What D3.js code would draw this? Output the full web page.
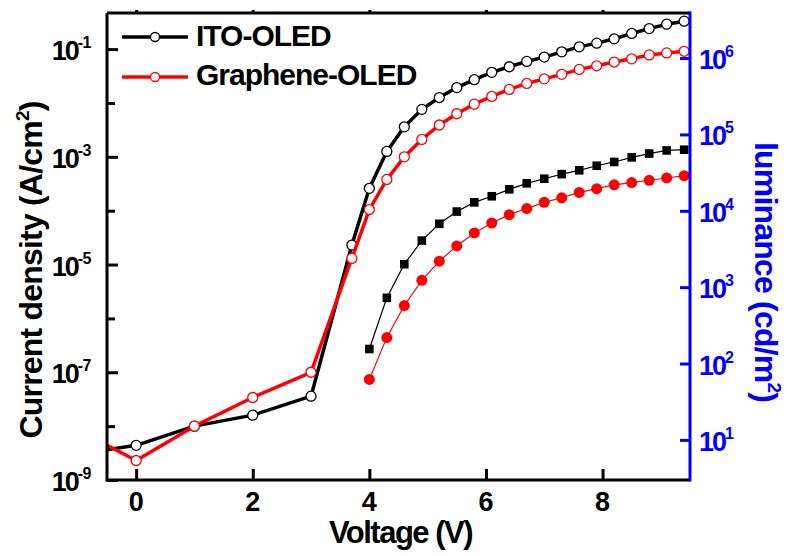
<!DOCTYPE html>
<html>
<head>
<meta charset="utf-8">
<script src="https://cdn.jsdelivr.net/npm/d3@7"></script>
<style>
  body { margin: 0; background: #fff; }
  text { font-family: "Liberation Sans", Arial, sans-serif; font-weight: bold; }
</style>
</head>
<body>
<div id="chart"></div>
<script>
// J-V data (A/cm2)
const voltageJ = [-1, 0, 1, 2, 3, 3.7, 4.0, 4.3, 4.6, 4.9, 5.2, 5.5, 5.8, 6.1, 6.4, 6.7, 7.0, 7.3, 7.6, 7.9, 8.2, 8.5, 8.8, 9.1, 9.4];
const jITO = [3.0e-9, 4.4e-9, 1.0e-8, 1.6e-8, 3.6e-8, 2.3e-5, 2.6e-4, 1.26e-3, 3.6e-3, 7.6e-3, 1.26e-2, 1.93e-2, 2.7e-2, 3.7e-2, 4.7e-2, 5.9e-2, 7.1e-2, 8.9e-2, 0.110, 0.129, 0.155, 0.195, 0.24, 0.29, 0.33];
const jGraphene = [8.5e-9, 2.3e-9, 1.0e-8, 3.4e-8, 1.0e-7, 1.3e-5, 1.05e-4, 3.8e-4, 1.0e-3, 2.1e-3, 3.9e-3, 6.3e-3, 9.5e-3, 1.32e-2, 1.78e-2, 2.3e-2, 2.8e-2, 3.4e-2, 4.2e-2, 4.9e-2, 5.75e-2, 6.6e-2, 7.8e-2, 8.5e-2, 9.1e-2];

// luminance data (cd/m2)
const voltageL = [4.0, 4.3, 4.6, 4.9, 5.2, 5.5, 5.8, 6.1, 6.4, 6.7, 7.0, 7.3, 7.6, 7.9, 8.2, 8.5, 8.8, 9.1, 9.4];
const lumITO = [155, 725, 2000, 4070, 6760, 9770, 12900, 15500, 19100, 22900, 26300, 30200, 33900, 38900, 43600, 50100, 56200, 61700, 63100];
const lumGraphene = [62, 219, 575, 1230, 2190, 3470, 5130, 6920, 8910, 10700, 12900, 14800, 17400, 19500, 21900, 23400, 25100, 26900, 28800];

const xTicks = [0, 2, 4, 6, 8];
const jLabelExps = [-9, -7, -5, -3, -1];
const jMinorExps = [-8, -6, -4, -2];
const lumExps = [1, 2, 3, 4, 5, 6];
const seriesNames = ["ITO-OLED", "Graphene-OLED"];

const W = 787, H = 556;
const margin = { top: 13, right: 97, bottom: 76, left: 107 };
const x0 = margin.left, x1 = W - margin.right, y0 = H - margin.bottom, y1 = margin.top;

const svg = d3.select("#chart").append("svg").attr("width", W).attr("height", H);

const x = d3.scaleLinear().domain([-0.5, 9.5]).range([x0, x1]);
const yJ = d3.scaleLog().domain([1e-9, Math.pow(10, -0.33)]).range([y0, y1]);
const yL = d3.scaleLog().domain([Math.pow(10, 0.475), Math.pow(10, 6.59)]).range([y0, y1]);

svg.append("clipPath").attr("id", "plotclip")
  .append("rect").attr("x", x0).attr("y", 0).attr("width", x1 - x0 + 6).attr("height", y0);

const plot = svg.append("g").attr("clip-path", "url(#plotclip)");

// luminance (thin lines, filled markers)
const lineL = d3.line().x(d => x(d[0])).y(d => yL(d[1]));
const lumITOpts = voltageL.map((v, i) => [v, lumITO[i]]);
const lumGrpts = voltageL.map((v, i) => [v, lumGraphene[i]]);

plot.append("path").attr("d", lineL(lumITOpts)).attr("fill", "none").attr("stroke", "#000").attr("stroke-width", 1.2);
plot.selectAll(".sq").data(lumITOpts).enter().append("rect")
  .attr("x", d => x(d[0]) - 4.3).attr("y", d => yL(d[1]) - 4.3)
  .attr("width", 8.6).attr("height", 8.6).attr("fill", "#000");

plot.append("path").attr("d", lineL(lumGrpts)).attr("fill", "none").attr("stroke", "#f00").attr("stroke-width", 1.2);
plot.selectAll(".dot").data(lumGrpts).enter().append("circle")
  .attr("cx", d => x(d[0])).attr("cy", d => yL(d[1])).attr("r", 5.5).attr("fill", "#f00");

// current density (thick lines, open circles)
const lineJ = d3.line().x(d => x(d[0])).y(d => yJ(d[1]));
[[jITO, "#000"], [jGraphene, "#f00"]].forEach(([vals, col]) => {
  const pts = voltageJ.map((v, i) => [v, vals[i]]);
  plot.append("path").attr("d", lineJ(pts)).attr("fill", "none")
    .attr("stroke", col).attr("stroke-width", 3.5).attr("stroke-linejoin", "round");
  plot.selectAll(null).data(pts).enter().append("circle")
    .attr("cx", d => x(d[0])).attr("cy", d => yJ(d[1])).attr("r", 5)
    .attr("fill", "#fff").attr("stroke", col).attr("stroke-width", 1.3);
});

// axes
svg.append("g").attr("transform", `translate(0,${y0})`)
  .call(d3.axisBottom(x).tickValues(xTicks).tickSize(-11).tickFormat(""))
  .call(g => g.select(".domain").remove())
  .selectAll("line").attr("stroke", "#000").attr("stroke-width", 3);

svg.append("g").attr("transform", `translate(0,${y1})`)
  .call(d3.axisTop(x).tickValues(xTicks).tickSize(3).tickFormat(""))
  .call(g => g.select(".domain").remove())
  .selectAll("line").attr("stroke", "#000").attr("stroke-width", 3);

svg.append("g").attr("transform", `translate(${x0},0)`)
  .call(d3.axisLeft(yJ).tickValues(jLabelExps.map(e => Math.pow(10, e))).tickSize(-11).tickFormat(""))
  .call(g => g.select(".domain").remove())
  .selectAll("line").attr("stroke", "#000").attr("stroke-width", 3);

svg.append("g").attr("transform", `translate(${x0},0)`)
  .call(d3.axisLeft(yJ).tickValues(jMinorExps.map(e => Math.pow(10, e))).tickSize(-8).tickFormat(""))
  .call(g => g.select(".domain").remove())
  .selectAll("line").attr("stroke", "#000").attr("stroke-width", 3);

svg.append("g").attr("transform", `translate(${x1},0)`)
  .call(d3.axisRight(yL).tickValues(lumExps.map(e => Math.pow(10, e))).tickSize(-10).tickFormat(""))
  .call(g => g.select(".domain").remove())
  .selectAll("line").attr("stroke", "#00f").attr("stroke-width", 3);

// frame
svg.append("path").attr("d", `M${x0},${y1}V${y0}H${x1}`).attr("fill", "none").attr("stroke", "#000").attr("stroke-width", 3);
svg.append("line").attr("x1", x0).attr("x2", x1).attr("y1", y1).attr("y2", y1).attr("stroke", "#000").attr("stroke-width", 3);
svg.append("line").attr("x1", x1).attr("x2", x1).attr("y1", y1 - 1.5).attr("y2", y0 + 1.5).attr("stroke", "#00f").attr("stroke-width", 3);

// tick labels
svg.selectAll(".xl").data(xTicks).enter().append("text")
  .attr("x", d => x(d)).attr("y", 511).attr("text-anchor", "middle")
  .attr("font-size", 27).text(d => d);

jLabelExps.forEach(e => {
  const t = svg.append("text").attr("x", 91).attr("y", yJ(Math.pow(10, e)) + 11)
    .attr("text-anchor", "end").attr("font-size", 27).attr("letter-spacing", -2);
  t.append("tspan").text("10");
  t.append("tspan").attr("font-size", 16).attr("dy", -12).attr("letter-spacing", -0.5).text(String(e));
});

lumExps.forEach(e => {
  const t = svg.append("text").attr("x", 699).attr("y", yL(Math.pow(10, e)) + 11)
    .attr("font-size", 27).attr("letter-spacing", -2).attr("fill", "#00f");
  t.append("tspan").text("10");
  t.append("tspan").attr("font-size", 16).attr("dy", -12).attr("letter-spacing", 0).text(String(e));
});

// axis titles
svg.append("text").attr("x", (x0 + x1) / 2 + 2).attr("y", 543).attr("text-anchor", "middle")
  .attr("font-size", 31).attr("letter-spacing", -1.5).text("Voltage (V)");

const tl = svg.append("text").attr("transform", "translate(42,270) rotate(-90)")
  .attr("text-anchor", "middle").attr("font-size", 32).attr("letter-spacing", -0.8);
tl.append("tspan").text("Current density (A/cm");
tl.append("tspan").attr("font-size", 19).attr("dy", -13).text("2");
tl.append("tspan").attr("dy", 13).text(")");

const tr = svg.append("text").attr("transform", "translate(755,272) rotate(90)")
  .attr("text-anchor", "middle").attr("font-size", 32).attr("letter-spacing", -0.8).attr("fill", "#00f");
tr.append("tspan").text("luminance (cd/m");
tr.append("tspan").attr("font-size", 19).attr("dy", -13).text("2");
tr.append("tspan").attr("dy", 13).text(")");

// legend
const legend = svg.append("g");
[["#000", 37, 46], ["#f00", 77, 85]].forEach(([col, ly, ty], i) => {
  legend.append("line").attr("x1", 122).attr("x2", 188).attr("y1", ly).attr("y2", ly)
    .attr("stroke", col).attr("stroke-width", 3.5);
  legend.append("circle").attr("cx", 155).attr("cy", ly).attr("r", 4.5)
    .attr("fill", "#fff").attr("stroke", col).attr("stroke-width", 1.3);
  legend.append("text").attr("x", 196).attr("y", ty).attr("font-size", 30)
    .attr("letter-spacing", -1).text(seriesNames[i]);
});
</script>
</body>
</html>
